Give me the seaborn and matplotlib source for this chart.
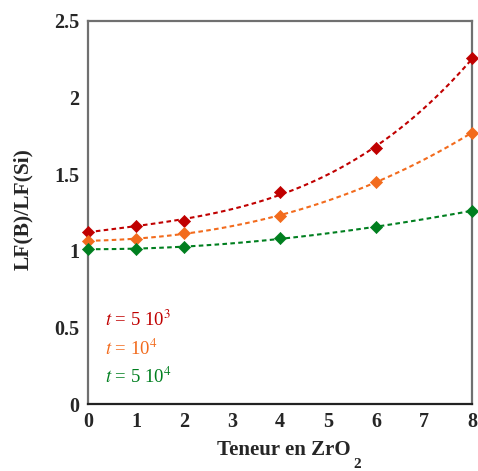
import numpy as np
import pandas as pd
import matplotlib
matplotlib.use('Agg')
import matplotlib.pyplot as plt
import seaborn as sns

# data
zro2 = [0, 1, 2, 4, 6, 8]
lf_5e3 = [1.125, 1.16, 1.195, 1.386, 1.669, 2.256]
lf_1e4 = [1.066, 1.075, 1.118, 1.227, 1.451, 1.771]
lf_5e4 = [1.012, 1.012, 1.027, 1.081, 1.155, 1.262]
series_labels = [r'$t$ = 5 10$^3$', r'$t$ = 10$^4$', r'$t$ = 5 10$^4$']
series_colors = ['#C00000', '#F26B1D', '#007F1F']

sns.set_style('white')
plt.rcParams['font.family'] = ['Liberation Serif', 'DejaVu Serif']
plt.rcParams['mathtext.fontset'] = 'stix'

W, H = 478, 471
fig, ax = plt.subplots(figsize=(W / 100, H / 100), dpi=100)
fig.subplots_adjust(left=88 / W, right=472 / W, top=1 - 21 / H, bottom=1 - 404 / H)

for vals, col in zip([lf_5e3, lf_1e4, lf_5e4], series_colors):
    df = pd.DataFrame({'x': zro2, 'y': vals})
    sns.regplot(data=df, x='x', y='y', order=3, ci=None, ax=ax, color=col,
                scatter=False, line_kws={'ls': (0, (2.2, 1.6)), 'lw': 1.5})
    sns.scatterplot(data=df, x='x', y='y', ax=ax, color=col, marker='D',
                    s=38, edgecolor=col, linewidth=0.5, zorder=5, clip_on=False)

ax.set_xlabel('')
ax.set_ylabel('')
ax.set_xlim(0, 8)
ax.set_ylim(0, 2.5)
ax.set_xticks(range(0, 9))
ax.set_yticks([0, 0.5, 1, 1.5, 2, 2.5])
ax.set_yticklabels(['0', '0.5', '1', '1.5', '2', '2.5'])
ax.tick_params(direction='in', length=6, width=1.5, color='#707070',
               labelsize=14.5, pad=6)
for lab in ax.get_xticklabels() + ax.get_yticklabels():
    lab.set_fontweight('bold')

for side in ['left', 'right', 'top']:
    ax.spines[side].set_color('#707070')
    ax.spines[side].set_linewidth(1.6)
ax.spines['bottom'].set_color('#222222')
ax.spines['bottom'].set_linewidth(1.6)

# axis titles placed as figure text (subscript sits well below the line)
fig.text(351 / W, 1 - 450 / H, 'Teneur en ZrO', fontsize=15, fontweight='bold',
         ha='right', va='center')
fig.text(353 / W, 1 - 465 / H, '2', fontsize=11, fontweight='bold',
         ha='left', va='center')
fig.text(23 / W, 1 - 209 / H, 'LF(B)/LF(Si)', fontsize=15.5, fontweight='bold',
         ha='center', va='center', rotation=90)

for lab, col, yy in zip(series_labels, series_colors, [0.55, 0.36, 0.18]):
    ax.text(0.35, yy, lab, color=col, fontsize=13.5, va='center', ha='left')

plt.savefig('out.png', dpi=100)
